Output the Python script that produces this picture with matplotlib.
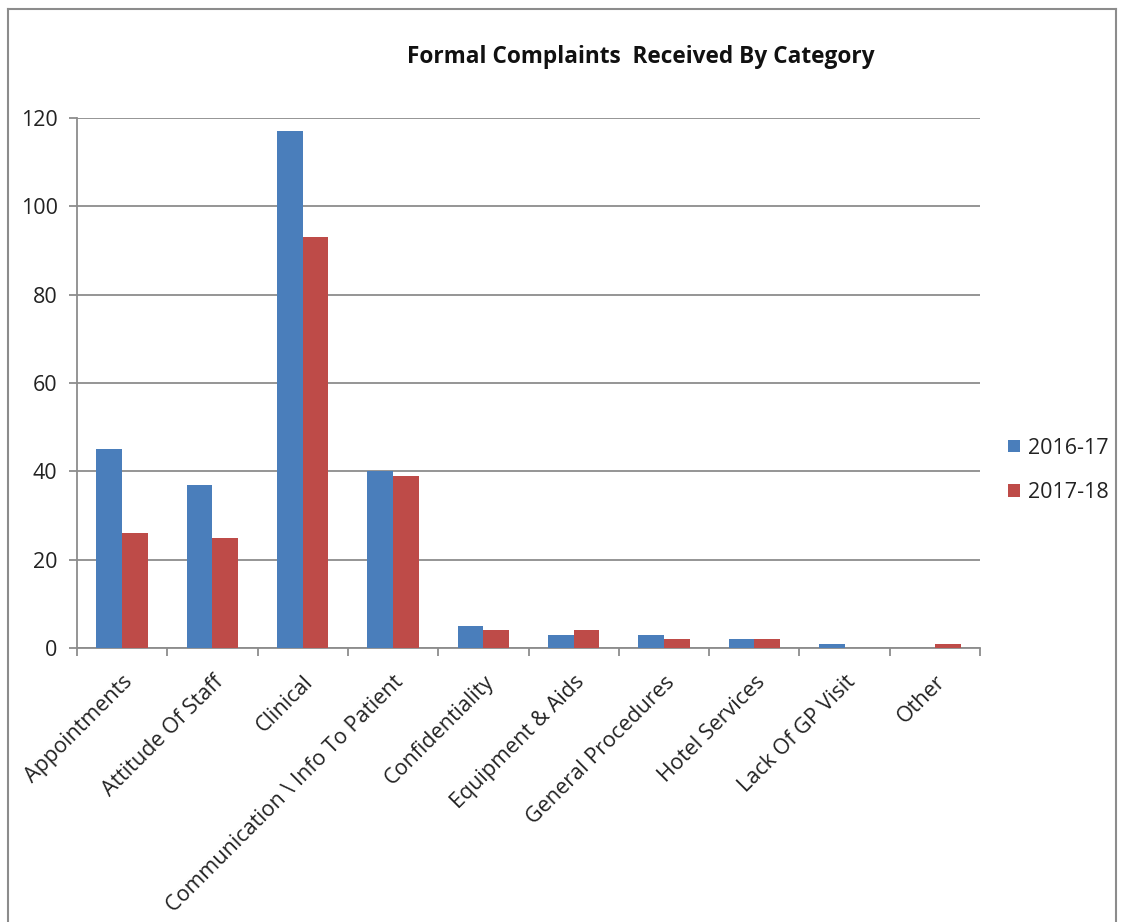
import numpy as np
import matplotlib.pyplot as plt
from matplotlib.lines import Line2D

categories = ["Appointments", "Attitude Of Staff", "Clinical",
              "Communication \\ Info To Patient", "Confidentiality",
              "Equipment & Aids", "General Procedures", "Hotel Services",
              "Lack Of GP Visit", "Other"]
y2016 = [45, 37, 117, 40, 5, 3, 3, 2, 1, 0]
y2017 = [26, 25, 93, 39, 4, 4, 2, 2, 0, 1]
series_names = ["2016-17", "2017-18"]

plt.rcParams['font.family'] = ['Open Sans', 'DejaVu Sans']

fig = plt.figure(figsize=(11.22, 9.22), dpi=100)
ax = fig.add_axes([77 / 1122, 1 - 648 / 922, (980 - 77) / 1122, (648 - 118) / 922])

x = np.arange(len(categories))
w = 0.285
ax.bar(x - w / 2, y2016, w, color="#4A7EBB", label=series_names[0], zorder=3)
ax.bar(x + w / 2, y2017, w, color="#BE4B48", label=series_names[1], zorder=3)

ax.set_xlim(-0.5, len(categories) - 0.5)
ax.set_ylim(0, 120)
ax.set_yticks(range(0, 121, 20))
ax.yaxis.grid(True, color="#8c8c8c", linewidth=1.3, zorder=0)
ax.tick_params(axis='y', length=6, width=1.3, color="#8c8c8c", labelsize=15.5,
               pad=8, labelcolor="#222222")

# category ticks sit between groups, labels at centres
ax.set_xticks(np.arange(len(categories) + 1) - 0.5)
ax.set_xticklabels([])
ax.tick_params(axis='x', which='major', length=6, width=1.3, color="#8c8c8c")
ax.set_xticks(x, minor=True)
ax.set_xticklabels(categories, minor=True, rotation=45, ha='right',
                   rotation_mode='anchor', fontsize=15.5, color="#222222")
ax.tick_params(axis='x', which='minor', length=0, pad=17)

for s in ["top", "right"]:
    ax.spines[s].set_visible(False)
for s in ["left", "bottom"]:
    ax.spines[s].set_color("#8c8c8c")
    ax.spines[s].set_linewidth(1.3)

fig.text(641 / 1122, 1 - 57 / 922, "Formal Complaints  Received By Category",
         ha='center', va='center', fontsize=16.3, fontweight='bold', color="#111111")

ax.legend(loc='center left', bbox_to_anchor=(1.01, 0.335), frameon=False,
          fontsize=15.5, handlelength=0.55, handleheight=0.55, labelspacing=1.1,
          handletextpad=0.35, labelcolor="#222222")

# outer chart border (left, top, right)
fig.add_artist(Line2D([8 / 1122, 8 / 1122], [0, 1 - 9 / 922], color="#8c8c8c", lw=1.5))
fig.add_artist(Line2D([8 / 1122, 1116 / 1122], [1 - 9 / 922, 1 - 9 / 922], color="#8c8c8c", lw=1.5))
fig.add_artist(Line2D([1116 / 1122, 1116 / 1122], [0, 1 - 9 / 922], color="#8c8c8c", lw=1.5))

fig.savefig("out.png", dpi=100)
